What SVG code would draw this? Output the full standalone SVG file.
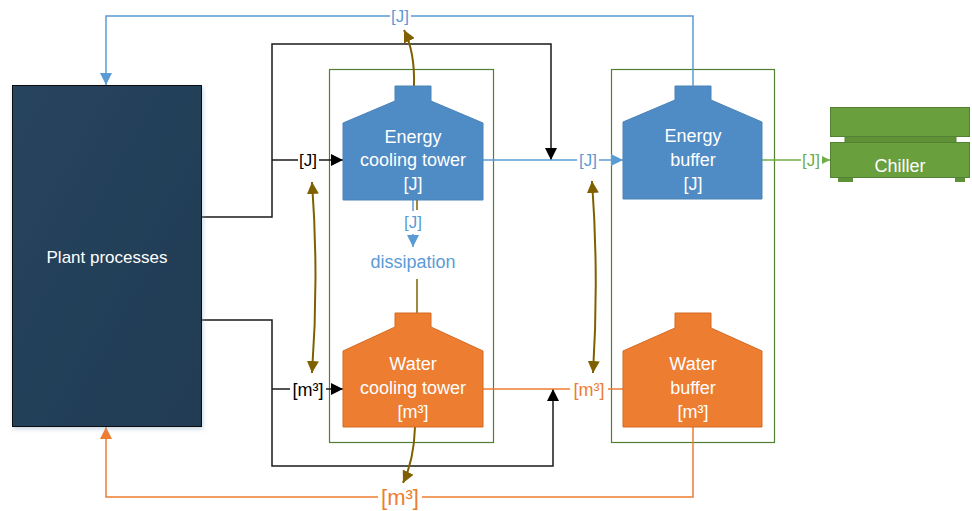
<svg xmlns="http://www.w3.org/2000/svg" width="972" height="511" viewBox="0 0 972 511">
<style>
text{font-family:"Liberation Sans",Arial,sans-serif;text-anchor:middle}
.wt{fill:#ffffff;font-size:18px}
.lbl{font-size:17px}
.bl{fill:#5b9bd5}
.or{fill:#ed7d31}
.gr{fill:#70ad47}
.bk{fill:#000000}
.ln{fill:none;stroke-width:1.5}
.blk{stroke:#1a1a1a}
.blu{stroke:#5b9bd5}
.org{stroke:#ed7d31}
.grn{stroke:#70ad47}
.brn{stroke:#7f6000;stroke-width:2}
.cont{fill:none;stroke:#507e32;stroke-width:1.2}
.etower{fill:#4f8bc4;stroke:#4a83b8;stroke-width:1}
.wtower{fill:#ed7d31;stroke:#d46a22;stroke-width:1}
.bg{fill:#ffffff}
</style>
<defs>
<marker id="aBk" viewBox="0 0 10 10" refX="10" refY="5" markerWidth="12" markerHeight="12" markerUnits="userSpaceOnUse" orient="auto"><path d="M0,0 L10,5 L0,10 Z" fill="#000"/></marker>
<marker id="aBl" viewBox="0 0 10 10" refX="10" refY="5" markerWidth="12" markerHeight="12" markerUnits="userSpaceOnUse" orient="auto"><path d="M0,0 L10,5 L0,10 Z" fill="#5b9bd5"/></marker>
<marker id="aOr" viewBox="0 0 10 10" refX="10" refY="5" markerWidth="12" markerHeight="12" markerUnits="userSpaceOnUse" orient="auto"><path d="M0,0 L10,5 L0,10 Z" fill="#ed7d31"/></marker>
<marker id="aGr" viewBox="0 0 10 10" refX="10" refY="5" markerWidth="11" markerHeight="11" markerUnits="userSpaceOnUse" orient="auto"><path d="M0,0 L10,5 L0,10 Z" fill="#70ad47"/></marker>
<marker id="aBr" viewBox="0 0 10 10" refX="10" refY="5" markerWidth="12" markerHeight="12" markerUnits="userSpaceOnUse" orient="auto-start-reverse"><path d="M0,0 L10,5 L0,10 Z" fill="#7f6000"/></marker>
<linearGradient id="plantG" x1="0" y1="0" x2="1" y2="1"><stop offset="0" stop-color="#26445e"/><stop offset="1" stop-color="#223b54"/></linearGradient>
<filter id="sh" x="-10%" y="-10%" width="120%" height="120%"><feDropShadow dx="1" dy="2" stdDeviation="2" flood-color="#8fa9c4" flood-opacity="0.5"/></filter>
</defs>

<g id="containers">
<rect id="container-left" class="cont" x="329.5" y="69.5" width="164" height="373"/>
<rect id="container-right" class="cont" x="611.5" y="69.5" width="163" height="373"/>
</g>

<g id="connectors">
<polyline class="ln blk" points="201,217 272,217 272,44 551,44 551,160" marker-end="url(#aBk)"/>
<line class="ln blk" x1="272" y1="160" x2="343" y2="160" marker-end="url(#aBk)"/>
<polyline class="ln blk" points="201,320 272,320 272,466 553,466 553,389" marker-end="url(#aBk)"/>
<line class="ln blk" x1="272" y1="389" x2="343" y2="389" marker-end="url(#aBk)"/>
<polyline class="ln blu" points="693,86 693,16 106,16 106,85" marker-end="url(#aBl)"/>
<line class="ln blu" x1="483" y1="160" x2="623" y2="160" marker-end="url(#aBl)"/>
<line class="ln blu" x1="413" y1="200" x2="413" y2="247" marker-end="url(#aBl)"/>
<line class="ln org" x1="483" y1="389" x2="623" y2="389"/>
<polyline class="ln org" points="693,427 693,497 106,497 106,427" marker-end="url(#aOr)"/>
<line class="ln grn" x1="762" y1="160" x2="830" y2="160" marker-end="url(#aGr)"/>
<line class="ln brn" x1="417" y1="200" x2="417" y2="210" style="stroke-width:1.5"/>
<line class="ln brn" x1="417" y1="279" x2="417" y2="313" style="stroke-width:1.5"/>
<path class="ln brn" d="M414,86 Q415,52 404,30" marker-end="url(#aBr)"/>
<path class="ln brn" d="M415,427 Q414,460 403,483" marker-end="url(#aBr)"/>
<path class="ln brn" d="M312,182 Q319,278 312,373" marker-start="url(#aBr)" marker-end="url(#aBr)"/>
<path class="ln brn" d="M592,181 Q599,277 593,373" marker-start="url(#aBr)" marker-end="url(#aBr)"/>
<rect class="bg" x="298" y="149" width="21" height="22"/>
<text class="lbl bk" x="308" y="166">[J]</text>
<rect class="bg" x="290" y="377" width="36" height="23"/>
<text class="lbl bk" x="308" y="396" style="font-size:18px">[m³]</text>
<rect class="bg" x="390" y="5" width="21" height="22"/>
<text class="lbl bl" x="400" y="22">[J]</text>
<rect class="bg" x="577" y="149" width="22" height="22"/>
<text class="lbl bl" x="588" y="166">[J]</text>
<rect class="bg" x="403" y="211" width="21" height="23"/>
<text class="lbl bl" x="413" y="228">[J]</text>
<rect class="bg" x="570" y="377" width="38" height="23"/>
<text class="lbl or" x="589" y="396" style="font-size:18px">[m³]</text>
<rect class="bg" x="378" y="483" width="44" height="27"/>
<text class="lbl or" x="400" y="505" style="font-size:22px">[m³]</text>
<rect class="bg" x="801" y="149" width="21" height="22"/>
<text class="lbl gr" x="811" y="166">[J]</text>
<text id="dissipation" class="bl" x="413" y="268" style="font-size:18px">dissipation</text>
</g>

<g id="plant-processes">
<rect x="12.5" y="85.5" width="189" height="341" fill="url(#plantG)" stroke="#111" stroke-width="1" filter="url(#sh)"/>
<text class="wt" x="107" y="263" style="font-size:17px">Plant processes</text>
</g>

<g id="energy-cooling-tower">
<path class="etower" d="M343,123 L395,101 L395,86 L431,86 L431,101 L483,123 L483,200 L343,200 Z"/>
<text class="wt" x="413" y="143">Energy</text>
<text class="wt" x="413" y="166">cooling tower</text>
<text class="wt" x="413" y="190">[J]</text>
</g>

<g id="water-cooling-tower">
<path class="wtower" d="M343,351 L395,327 L395,313 L431,313 L431,327 L483,351 L483,427 L343,427 Z"/>
<text class="wt" x="413" y="370">Water</text>
<text class="wt" x="413" y="394">cooling tower</text>
<text class="wt" x="413" y="418">[m³]</text>
</g>

<g id="energy-buffer">
<path class="etower" d="M623,122 L675,100 L675,86 L711,86 L711,100 L762,122 L762,199 L623,199 Z"/>
<text class="wt" x="693" y="142">Energy</text>
<text class="wt" x="693" y="166">buffer</text>
<text class="wt" x="693" y="190">[J]</text>
</g>

<g id="water-buffer">
<path class="wtower" d="M623,351 L675,328 L675,313 L711,313 L711,328 L762,351 L762,427 L623,427 Z"/>
<text class="wt" x="693" y="370">Water</text>
<text class="wt" x="693" y="394">buffer</text>
<text class="wt" x="693" y="418">[m³]</text>
</g>

<g id="chiller">
<rect x="838" y="177" width="15" height="5" fill="#5f9236"/>
<rect x="955" y="177" width="10" height="5" fill="#5f9236"/>
<rect x="845" y="135" width="111" height="8" fill="#5f9236" stroke="#548235" stroke-width="1"/>
<rect x="830.5" y="107.5" width="139" height="29" fill="#6a9f3e" stroke="#548235" stroke-width="1"/>
<rect x="830.5" y="142.5" width="139" height="35" fill="#6a9f3e" stroke="#548235" stroke-width="1"/>
<text class="wt" x="900" y="172">Chiller</text>
</g>
</svg>
